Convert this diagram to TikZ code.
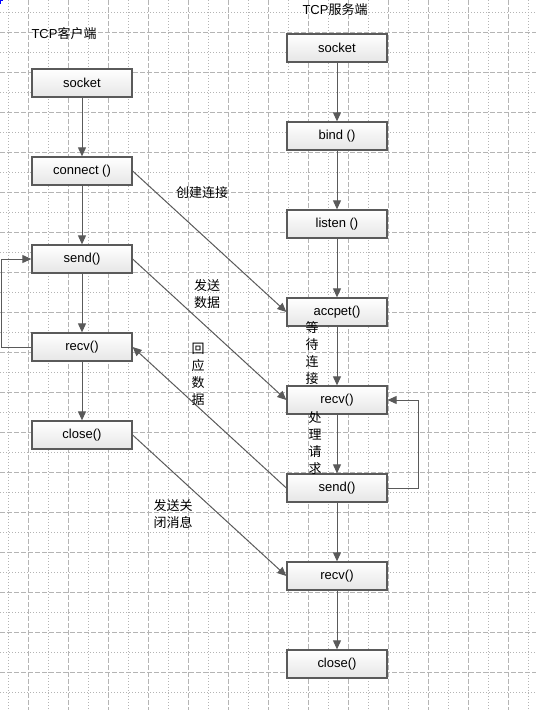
\documentclass[tikz,border=0pt]{standalone}
\usepackage{fontspec}
\setmainfont{Liberation Sans}
\newfontfamily\cjk{Noto Sans CJK SC}
\usetikzlibrary{arrows.meta}
\definecolor{gridc}{HTML}{B4B4B4}
\definecolor{boxborder}{HTML}{5A5A5A}
\definecolor{boxbottom}{HTML}{E6E6E6}
\definecolor{linec}{HTML}{5A5A5A}
\tikzset{
  boxnode/.style={rectangle, draw=boxborder, line width=1.3pt, top color=white, bottom color=boxbottom,
    minimum width=100pt, minimum height=28pt, inner sep=0pt, font=\fontsize{13}{15}\selectfont},
  arr/.style={draw=linec, line width=1pt, -{Triangle[length=9pt,width=8pt]}},
  lbl/.style={font=\fontsize{13}{17}\selectfont\cjk, align=center, inner sep=0pt},
  gdash/.style={draw=gridc, line width=1pt, dash pattern=on 5pt off 2pt},
  gdot/.style={draw=gridc, line width=1pt, dash pattern=on 1pt off 2pt}
}
\begin{document}
\begin{tikzpicture}[x=1pt,y=-1pt]
\useasboundingbox (0,0) rectangle (536,710);
\fill[white] (0,0) rectangle (536,710);
% grid
\foreach \gx in {8,48,...,528} {\draw[gdot] (\gx,0) -- (\gx,710);}
\foreach \gy in {12,52,...,692} {\draw[gdot] (0,\gy) -- (536,\gy);}
\foreach \gx in {28,68,...,508} {\draw[gdash] (\gx,0) -- (\gx,710);}
\foreach \gy in {32,72,...,672} {\draw[gdash] (0,\gy) -- (536,\gy);}
\draw[blue, line width=1pt] (0.5,4) -- (0.5,0.5) -- (2.5,0.5);
% titles
\node[lbl] (tc) at (64,34) {\fontspec{Liberation Sans}TCP\cjk 客户端};
\node[lbl] (ts) at (335,10) {\fontspec{Liberation Sans}TCP\cjk 服务端};
% client boxes
\node[boxnode] (c1) at (82,83) {socket};
\node[boxnode] (c2) at (82,171) {connect ()};
\node[boxnode] (c3) at (82,259) {send()};
\node[boxnode] (c4) at (82,347) {recv()};
\node[boxnode] (c5) at (82,435) {close()};
% server boxes
\node[boxnode] (s1) at (337,48) {socket};
\node[boxnode] (s2) at (337,136) {bind ()};
\node[boxnode] (s3) at (337,224) {listen ()};
\node[boxnode] (s4) at (337,312) {accpet()};
\node[boxnode] (s5) at (337,400) {recv()};
\node[boxnode] (s6) at (337,488) {send()};
\node[boxnode] (s7) at (337,576) {recv()};
\node[boxnode] (s8) at (337,664) {close()};
% vertical arrows
\draw[arr] (c1) -- (c2);
\draw[arr] (c2) -- (c3);
\draw[arr] (c3) -- (c4);
\draw[arr] (c4) -- (c5);
\draw[arr] (s1) -- (s2);
\draw[arr] (s2) -- (s3);
\draw[arr] (s3) -- (s4);
\draw[arr] (s4) -- (s5);
\draw[arr] (s5) -- (s6);
\draw[arr] (s6) -- (s7);
\draw[arr] (s7) -- (s8);
% loops
\coordinate (cl) at (1,0);
\coordinate (sr) at (418,0);
\draw[arr] (c4.west) -- (c4.west -| cl) |- (c3.west);
\draw[arr] (s6.east) -- (s6.east -| sr) |- (s5.east);
% diagonals
\draw[arr] (c2.east) -- (s4.west);
\draw[arr] (c3.east) -- (s5.west);
\draw[arr] (s6.west) -- (c4.east);
\draw[arr] (c5.east) -- (s7.west);
% labels
\node[lbl] (l1) at (202,193) {创建连接};
\node[lbl] (l2) at (207,294.5) {发送\\数据};
\node[lbl] (l3) at (198,374.5) {回\\应\\数\\据};
\node[lbl] (l4) at (312,353) {等\\待\\连\\接};
\node[lbl] (l5) at (315,443) {处\\理\\请\\求};
\node[lbl] (l6) at (173,514.5) {发送关\\闭消息};
\end{tikzpicture}
\end{document}
